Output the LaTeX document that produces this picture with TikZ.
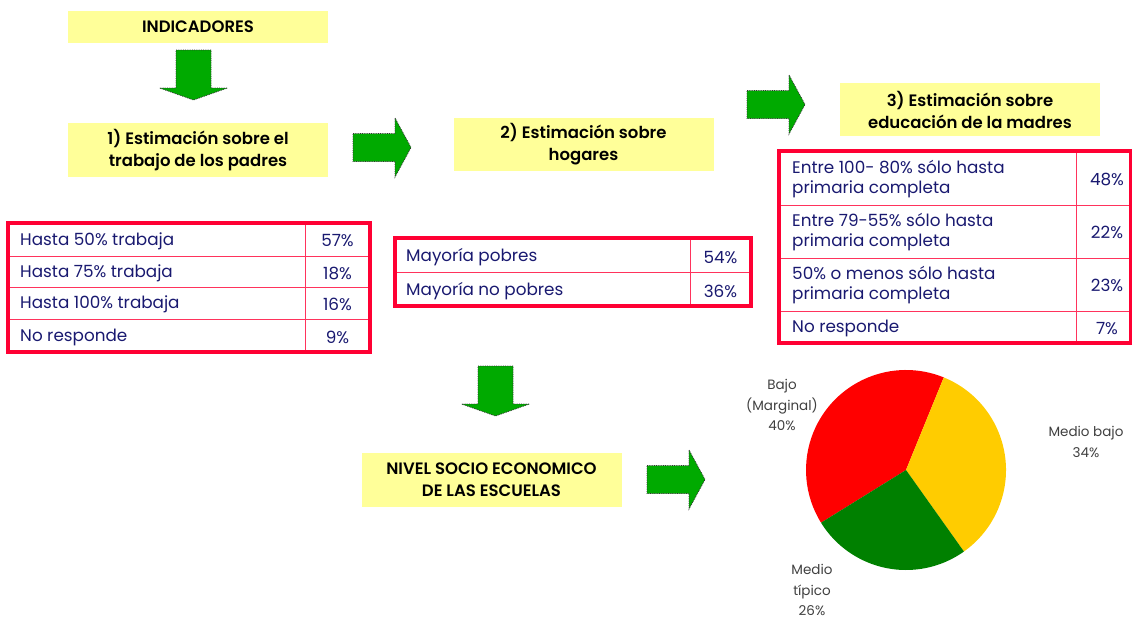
\documentclass[tikz,border=0pt]{standalone}
\usepackage{fontspec}
\setmainfont{Poppins}[BoldFont={Poppins SemiBold}]
\usetikzlibrary{positioning, calc}
\definecolor{boxyellow}{RGB}{255,255,153}
\definecolor{arrgreen}{RGB}{0,170,0}
\definecolor{tabred}{RGB}{255,0,51}
\definecolor{tabnavy}{RGB}{25,25,112}
\definecolor{piered}{RGB}{255,0,0}
\definecolor{pieyellow}{RGB}{255,204,0}
\definecolor{piegreen}{RGB}{0,128,0}
\definecolor{lblgrey}{RGB}{64,64,64}
\tikzset{
    ybox/.style={rectangle, fill=boxyellow, minimum width=260, minimum height=#1, align=center, font=\fontsize{16.5}{22}\selectfont\bfseries, inner sep=0pt},
    tabouter/.style={draw=tabred, line width=3.5pt},
    tabinner/.style={draw=tabred!80, line width=1pt},
    celltxt/.style={anchor=west, align=left, text=tabnavy, font=\fontsize{16.8}{20}\selectfont, inner sep=0pt},
    cellval/.style={text=tabnavy, font=\fontsize{16.8}{20}\selectfont, inner sep=0pt},
    pielbl/.style={align=center, text=lblgrey, font=\fontsize{13.5}{20.5}\selectfont, inner sep=0pt},
    garrow/.style={fill=arrgreen, draw=black!80, densely dotted, line width=0.8pt},
    pics/arrright/.style={code={
        \draw[garrow] (0,-14) -- (42,-14) -- (42,-29.5) -- (58,0) -- (42,29.5) -- (42,14) -- (0,14) -- cycle;
    }},
    pics/arrdown/.style={code={
        \draw[garrow] (-17.5,0) -- (17.5,0) -- (17.5,38) -- (34,38) -- (0,50) -- (-34,38) -- (-17.5,38) -- (-17.5,0) -- cycle;
    }}
}

\begin{document}
\begin{tikzpicture}[x=1pt, y=-1pt]
        \useasboundingbox (0,0) rectangle (1132,619);

        % Indicator boxes
        \node[ybox=32] (ind) at (198,27) {INDICADORES};
        \node[ybox=54] (est1) at (198,150) {1) Estimación sobre el\\trabajo de los padres};
        \node[ybox=53] (est2) at (583.5,144.5) {2) Estimación sobre\\hogares};
        \node[ybox=53] (est3) at (970,109.5) {3) Estimación sobre\\educación de la madres};
        \node[ybox=54] (nse) at (491.5,480) {NIVEL SOCIO ECONOMICO\\DE LAS ESCUELAS};

        % Block arrows
        \pic at (193.5,50) {arrdown};
        \pic at (353,147.5) {arrright};
        \pic at (747,104.5) {arrright};
        \pic at (495.5,366) {arrdown};
        \pic at (647,479.5) {arrright};

        % Table 1 (trabajo de los padres)
        \foreach \y in {256, 287, 319} {
            \draw[tabinner] (8,\y) -- (370,\y);
        }
        \draw[tabinner] (305,223) -- (305,352);
        \draw[tabouter] (8,223) rectangle (370,352);
        \foreach \yc/\t/\v [count=\i] in {241/Hasta 50\% trabaja/57\%, 273/Hasta 75\% trabaja/18\%, 304.5/Hasta 100\% trabaja/16\%, 337/No responde/9\%} {
            \node[celltxt] (ta\i) at (20,\yc) {\t};
            \node[cellval] (va\i) at (337.5,\yc) {\v};
        }

        % Table 2 (hogares)
        \draw[tabinner] (395,272) -- (751,272);
        \draw[tabinner] (690,238) -- (690,306);
        \draw[tabouter] (395,238) rectangle (751,306);
        \node[celltxt] (tb1) at (406,257.5) {Mayoría pobres};
        \node[cellval] (vb1) at (720.5,257.5) {54\%};
        \node[celltxt] (tb2) at (406,291) {Mayoría no pobres};
        \node[cellval] (vb2) at (720.5,291) {36\%};

        % Table 3 (educacion de la madres)
        \foreach \y in {205, 258, 311} {
            \draw[tabinner] (779,\y) -- (1131,\y);
        }
        \draw[tabinner] (1076,151) -- (1076,343);
        \draw[tabouter] (779,151) rectangle (1131,343);
        \foreach \yc/\t/\v [count=\i] in {179/{Entre 100- 80\% sólo hasta\\primaria completa}/48\%, 232.5/{Entre 79-55\% sólo hasta\\primaria completa}/22\%, 285.5/{50\% o menos sólo hasta\\primaria completa}/23\%, 328.5/No responde/7\%} {
            \node[celltxt] (tc\i) at (792,\yc) {\t};
            \node[cellval] (vc\i) at (1107,\yc) {\v};
        }

        % Pie chart
        \coordinate (pc) at (906,470);
        \fill[piered] (pc) -- ++(-67.8:100) arc (-67.8:-211.8:100) -- cycle;
        \fill[pieyellow] (pc) -- ++(-67.8:100) arc (-67.8:54.6:100) -- cycle;
        \fill[piegreen] (pc) -- ++(54.6:100) arc (54.6:148.2:100) -- cycle;
        \node[pielbl] (lbajo) at (782,405) {Bajo\\(Marginal)\\40\%};
        \node[pielbl] (lmbajo) at (1086,442) {Medio bajo\\34\%};
        \node[pielbl] (lmtip) at (812,590) {Medio\\típico\\26\%};

    \end{tikzpicture}
\end{document}
